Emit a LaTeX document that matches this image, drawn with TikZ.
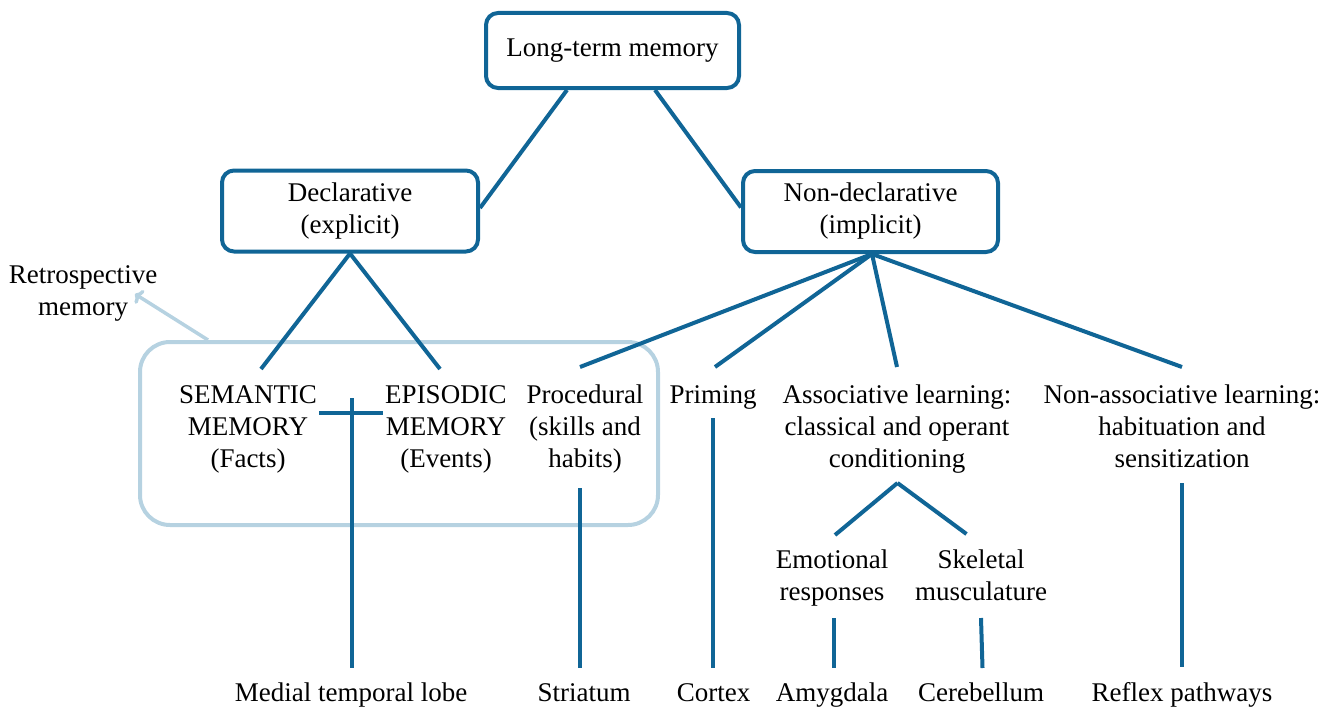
\documentclass[tikz,border=0pt]{standalone}
\usepackage{fontspec}
\setmainfont{Liberation Serif}
\usetikzlibrary{arrows.meta}

\definecolor{linkblue}{RGB}{16,101,150}
\definecolor{paleblue}{RGB}{182,210,225}

\tikzset{
  memtext/.style={anchor=base, align=center, inner sep=0pt,
    font=\fontsize{27}{32}\selectfont},
  membox/.style={draw=linkblue, line width=4pt, rounded corners=12pt,
    fill=white, align=center, inner sep=0pt,
    font=\fontsize{27}{32}\selectfont},
  link/.style={draw=linkblue, line width=4pt},
  groupbox/.style={draw=paleblue, line width=4pt, rounded corners=30pt,
    inner sep=0pt},
  grouparrow/.style={draw=paleblue, line width=3.5pt,
    -{To[length=7pt,width=16pt,line width=3.5pt]}}
}

\begin{document}
\begin{tikzpicture}[x=1pt, y=-1pt]
  \useasboundingbox (0,0) rectangle (1335,709);

  % retrospective memory group (multi-line nodes sit on their last baseline)
  \node[groupbox, minimum width=518pt, minimum height=183pt] (retrobox) at (399,433.5) {};
  \node[memtext] (retrolbl) at (83,315) {Retrospective\\memory};
  \draw[grouparrow] ([xshift=-191pt]retrobox.north) -- ([xshift=52pt,yshift=21pt]retrolbl.base);

  % top levels
  \node[membox, minimum width=253pt, minimum height=75pt] (ltm) at (612.5,50.5) {Long-term memory};
  \node[membox, minimum width=256pt, minimum height=81pt] (decl) at (350,211) {Declarative\\(explicit)};
  \node[membox, minimum width=255pt, minimum height=81pt] (nondecl) at (870.5,211.5) {Non-declarative\\(implicit)};

  % memory systems
  \node[memtext] (sem) at (248,467) {SEMANTIC\\MEMORY\\(Facts)};
  \node[memtext] (epi) at (446,467) {EPISODIC\\MEMORY\\(Events)};
  \node[memtext] (proc) at (585,467) {Procedural\\(skills and\\habits)};
  \node[memtext] (prim) at (713,403) {Priming};
  \node[memtext] (assoc) at (897,467) {Associative learning:\\classical and operant\\conditioning};
  \node[memtext] (nonassoc) at (1182,467) {Non-associative learning:\\habituation and\\sensitization};
  \node[memtext] (emo) at (832,600) {Emotional\\responses};
  \node[memtext] (skel) at (981,600) {Skeletal\\musculature};

  % brain structures
  \node[memtext] (mtl) at (351,701) {Medial temporal lobe};
  \node[memtext] (str) at (584,701) {Striatum};
  \node[memtext] (cor) at (713.5,701) {Cortex};
  \node[memtext] (amy) at (832,701) {Amygdala};
  \node[memtext] (cer) at (981,701) {Cerebellum};
  \node[memtext] (ref) at (1182,701) {Reflex pathways};

  % hierarchy links
  \draw[link] ([xshift=-45.5pt]ltm.south) -- ([yshift=3pt]decl.east);
  \draw[link] ([xshift=42.5pt]ltm.south) -- ([yshift=4pt]nondecl.west);
  \draw[link] (decl.south) -- ([xshift=13pt,yshift=98pt]sem.base);
  \draw[link] (decl.south) -- ([xshift=-6pt,yshift=98pt]epi.base);
  \draw[link] ([xshift=1.5pt]nondecl.south) -- ([xshift=-5pt,yshift=100pt]proc.base);
  \draw[link] ([xshift=1.5pt]nondecl.south) -- ([xshift=2pt,yshift=36pt]prim.base);
  \draw[link] ([xshift=1.5pt]nondecl.south) -- ([yshift=100pt]assoc.base);
  \draw[link] ([xshift=1.5pt]nondecl.south) -- ([yshift=100pt]nonassoc.base);
  \draw[link] ([xshift=0.5pt,yshift=-16pt]assoc.base) -- ([xshift=3pt,yshift=65pt]emo.base);
  \draw[link] ([xshift=0.5pt,yshift=-16pt]assoc.base) -- ([xshift=-14.5pt,yshift=66pt]skel.base);

  % links to brain structures
  \draw[link] ([xshift=71pt,yshift=54pt]sem.base) -- ([xshift=-63pt,yshift=54pt]epi.base);
  \draw[link] ([xshift=1pt,yshift=303pt]mtl.base) -- ([xshift=1pt,yshift=33pt]mtl.base);
  \draw[link] ([xshift=-5pt,yshift=-21pt]proc.base) -- ([xshift=-4pt,yshift=33pt]str.base);
  \draw[link] ([yshift=-15pt]prim.base) -- ([xshift=-0.5pt,yshift=33pt]cor.base);
  \draw[link] ([xshift=2pt,yshift=-18pt]emo.base) -- ([xshift=2pt,yshift=33pt]amy.base);
  \draw[link] ([xshift=0pt,yshift=-18pt]skel.base) -- ([xshift=1.5pt,yshift=33pt]cer.base);
  \draw[link] ([yshift=-16pt]nonassoc.base) -- ([yshift=34pt]ref.base);
\end{tikzpicture}
\end{document}
